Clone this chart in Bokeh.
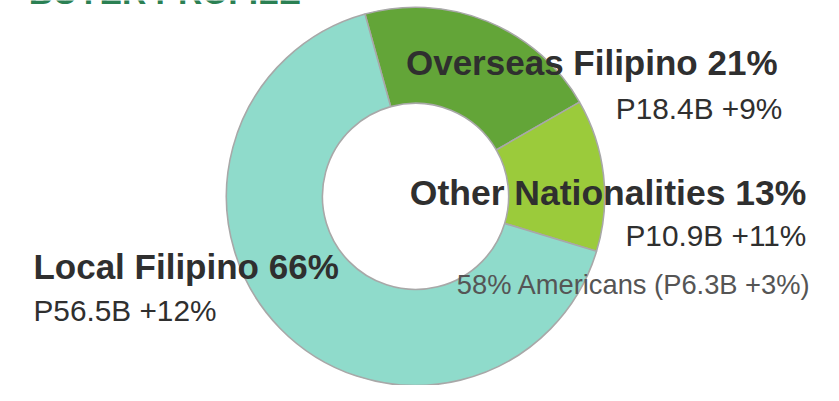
import numpy as np
from bokeh.plotting import figure
from bokeh.models import Range1d, ColumnDataSource
from bokeh.core.properties import value
from bokeh.embed import file_html
from bokeh.resources import INLINE

# ---- data ----
title = "BUYER PROFILE"
segments = ["Overseas Filipino", "Other Nationalities", "Local Filipino"]
shares = [21, 13, 66]              # percent of buyers
values_b = [18.4, 10.9, 56.5]      # P billions
growth = [9, 11, 12]               # percent growth
americans_share = 58
americans_value = 6.3
americans_growth = 3

colors = ["#63a538", "#9bcb3b", "#8fdbcb"]

# ---- layout (reference pixel space, scaled uniformly) ----
W, H = 823, 385
REF_H = 401
S = H / REF_H
x_start = -9.3
x_end = x_start + W / S

p = figure(width=W, height=H, output_backend="svg", toolbar_location=None,
           x_range=Range1d(x_start, x_end), y_range=Range1d(0, REF_H),
           min_border=0)
p.axis.visible = False
p.grid.visible = False
p.outline_line_color = None
p.background_fill_color = "white"
p.border_fill_color = "white"

def Y(ref_y):
    return REF_H - ref_y

cx, cy = 423, Y(204)
start_deg = 105.5
fr = np.array(shares, dtype=float) / sum(shares)
cum = np.concatenate([[0], np.cumsum(fr)])
starts = np.radians(start_deg - 360 * cum[:-1])
ends = np.radians(start_deg - 360 * cum[1:])

src = ColumnDataSource(dict(start=starts, end=ends, color=colors))
p.annular_wedge(x=cx, y=cy, inner_radius=97, outer_radius=197,
                start_angle="start", end_angle="end", direction="clock",
                fill_color="color", line_color="#a8a8a8", line_width=1.6,
                source=src)

font = value("Liberation Sans")
dark = "#2f2f2f"

def label(x, y, txt, size, align, color=dark, bold=False):
    p.text(x=[x], y=[Y(y)], text=[txt], text_font=font,
           text_font_size=f"{size * S:.1f}px",
           text_font_style="bold" if bold else "normal",
           text_color=color, text_align=align, text_baseline="alphabetic")

# title (cut off at the top edge, as in the reference)
label(20, -8, title, 35, "left", color="#2b8053", bold=True)

heads = [f"{n} {s}%" for n, s in zip(segments, shares)]
subs = [f"P{v}B +{g}%" for v, g in zip(values_b, growth)]

label(800, 65, heads[0], 36.5, "right", bold=True)
label(805, 112, subs[0], 31, "right")
label(830, 200, heads[1], 37, "right", bold=True)
label(830, 245, subs[1], 31, "right")
label(835, 296, f"{americans_share}% Americans (P{americans_value}B +{americans_growth}%)",
      28.4, "right", color="#555555")
label(25, 277, heads[2], 36.5, "left", bold=True)
label(25, 323, subs[2], 31, "left")

open("out.html", "w").write(file_html(p, INLINE))
